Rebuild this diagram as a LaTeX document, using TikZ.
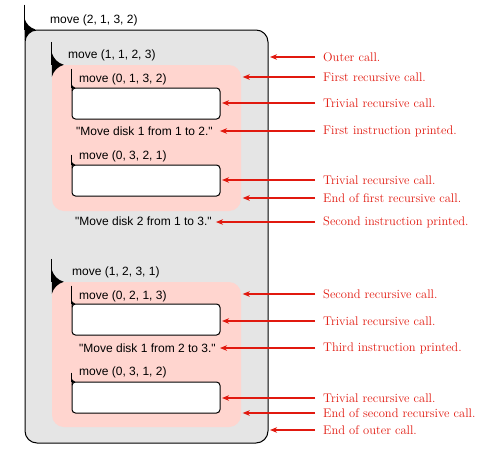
\documentclass[tikz,border=0pt]{standalone}
\usepackage{fontspec}
\newfontfamily\callfont{Liberation Sans}
\usepackage{xcolor}
\usepackage{tikz}
\usetikzlibrary{arrows.meta}

\definecolor{notered}{RGB}{225,25,15}
\definecolor{framegray}{RGB}{229,229,229}
\definecolor{callpink}{RGB}{255,213,207}

\tikzset{
	outerframe/.style={draw=black, line width=1pt, fill=framegray, rounded corners=12pt, inner sep=0pt},
	recframe/.style={fill=callpink, rounded corners=12pt, inner sep=0pt},
	trivframe/.style={draw=black, line width=1pt, fill=white, rounded corners=3.5pt, inner sep=0pt,
		minimum width=148pt, minimum height=31pt},
	calltext/.style={anchor=west, inner sep=0pt, font=\callfont\fontsize{12}{14}\selectfont},
	msgtext/.style={anchor=west, inner sep=0pt, font=\callfont\fontsize{12}{14}\selectfont},
	note/.style={anchor=west, inner xsep=8pt, inner ysep=1pt, text=notered, font=\fontsize{12.5}{14}\selectfont},
	callarrow/.style={color=notered, line width=1.1pt, shorten >=1.5pt, -{Stealth[length=7pt, width=5.5pt, inset=2pt]}},
}

% vertical call line with its black corner wedge
\newcommand{\calltick}[3]{%
	\draw[line width=1.2pt] ([yshift=#2]#1.north west) -- (#1.north west);
	\fill ([yshift=#3]#1.north west)
		.. controls ([xshift=0.15*#3, yshift=0.5*#3]#1.north west) and ([xshift=0.5*#3, yshift=0.15*#3]#1.north west)
		.. ([xshift=#3]#1.north west)
		.. controls ([xshift=0.5*#3, yshift=-0.15*#3]#1.north west) and ([xshift=0.15*#3, yshift=-0.5*#3]#1.north west)
		.. ([yshift=-#3]#1.north west) -- cycle;}

\begin{document}
\begin{tikzpicture}[x=1pt, y=-1pt]
		\useasboundingbox (0,0) rectangle (490,458);

		\node[outerframe, minimum width=243pt, minimum height=413pt] (outer) at (146.5,236.5) {};
		\calltick{outer}{25pt}{11pt}
		\node[calltext] (outerCall) at (50,20) {move (2, 1, 3, 2)};

		% first recursive call
		\node[recframe, minimum width=189pt, minimum height=146pt] (recA) at (146.5,138) {};
		\calltick{recA}{23pt}{12pt}
		\node[calltext] (recACall) at (68,55) {move (1, 1, 2, 3)};

		\node[trivframe] (trivA) at (146,103.5) {};
		\calltick{trivA}{19pt}{3.5pt}
		\node[calltext] (trivACall) at (79,79) {move (0, 1, 3, 2)};
		\node[msgtext] (msgA) at (76,131) {"Move disk 1 from 1 to 2."};

		\node[trivframe] (trivB) at (146,180.5) {};
		\calltick{trivB}{10pt}{3.5pt}
		\node[calltext] (trivBCall) at (79,156) {move (0, 3, 2, 1)};

		\node[msgtext] (msgB) at (75,221) {"Move disk 2 from 1 to 3."};

		% second recursive call
		\node[recframe, minimum width=189pt, minimum height=145pt] (recB) at (146.5,354.5) {};
		\calltick{recB}{23pt}{12pt}
		\node[calltext] (recBCall) at (72,272) {move (1, 2, 3, 1)};

		\node[trivframe] (trivC) at (146,319.5) {};
		\calltick{trivC}{18pt}{3.5pt}
		\node[calltext] (trivCCall) at (79,296) {move (0, 2, 1, 3)};
		\node[msgtext] (msgC) at (79,348) {"Move disk 1 from 2 to 3."};

		\node[trivframe] (trivD) at (146,397.5) {};
		\calltick{trivD}{9pt}{3.5pt}
		\node[calltext] (trivDCall) at (79,372) {move (0, 3, 1, 2)};

		% notes
		\node[note] (nOuter) at (315,57) {Outer call.};
		\node[note] (nRecA) at (315,77) {First recursive call.};
		\node[note] (nTrivA) at (315,103) {Trivial recursive call.};
		\node[note] (nMsgA) at (315,131) {First instruction printed.};
		\node[note] (nTrivB) at (315,180) {Trivial recursive call.};
		\node[note] (nEndA) at (315,198) {End of first recursive call.};
		\node[note] (nMsgB) at (315,222) {Second instruction printed.};
		\node[note] (nRecB) at (315,294) {Second recursive call.};
		\node[note] (nTrivC) at (315,321) {Trivial recursive call.};
		\node[note] (nMsgC) at (315,348) {Third instruction printed.};
		\node[note] (nTrivD) at (315,398) {Trivial recursive call.};
		\node[note] (nEndB) at (315,413) {End of second recursive call.};
		\node[note] (nEndOuter) at (315,430) {End of outer call.};

		\draw[callarrow] (nOuter.west) -- (outer.east |- nOuter.west);
		\draw[callarrow] (nRecA.west) -- (recA.east |- nRecA.west);
		\draw[callarrow] (nTrivA.west) -- (trivA.east |- nTrivA.west);
		\draw[callarrow, shorten >=7pt] (nMsgA.west) -- (msgA.east |- nMsgA.west);
		\draw[callarrow] (nTrivB.west) -- (trivB.east |- nTrivB.west);
		\draw[callarrow] (nEndA.west) -- (recA.east |- nEndA.west);
		\draw[callarrow, shorten >=4pt] (nMsgB.west) -- (msgB.east |- nMsgB.west);
		\draw[callarrow] (nRecB.west) -- (recB.east |- nRecB.west);
		\draw[callarrow] (nTrivC.west) -- (trivC.east |- nTrivC.west);
		\draw[callarrow, shorten >=4pt] (nMsgC.west) -- (msgC.east |- nMsgC.west);
		\draw[callarrow] (nTrivD.west) -- (trivD.east |- nTrivD.west);
		\draw[callarrow] (nEndB.west) -- (recB.east |- nEndB.west);
		\draw[callarrow] (nEndOuter.west) -- (outer.east |- nEndOuter.west);
	\end{tikzpicture}
\end{document}
